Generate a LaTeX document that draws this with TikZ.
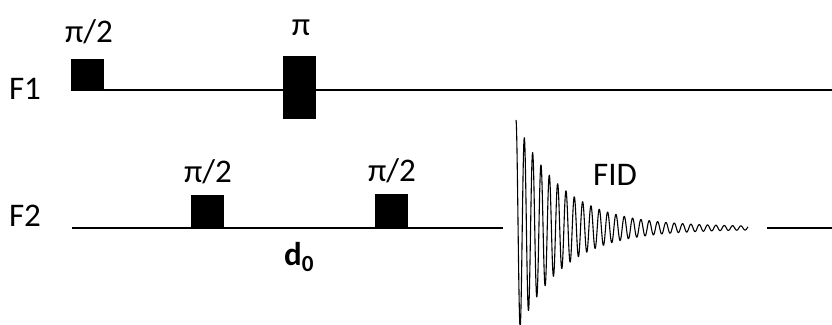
\documentclass[tikz,border=0pt]{standalone}
\usepackage{fontspec}
\setmainfont{Carlito}
\begin{document}
\begin{tikzpicture}[x=1pt,y=-1pt,
  lbl/.style={inner sep=0pt, font=\fontsize{33}{38}\selectfont},
  pulse/.style={fill=black, draw=none, inner sep=0pt},
  axis/.style={line width=1.4pt, black}]
\useasboundingbox (0,0) rectangle (832,324);
\clip (0,0) rectangle (832,324);
% channel labels
\node[lbl] (f1) at (25,89) {F1};
\node[lbl] (f2) at (25,216) {F2};
% baselines
\coordinate (f1s) at (72,90);
\coordinate (f1e) at (832,90);
\coordinate (f2s) at (72,228);
\coordinate (f2e) at (503,228);
\coordinate (f3s) at (767,228);
\coordinate (f3e) at (832,228);
\draw[axis] (f1s) -- (f1e);
\draw[axis] (f2s) -- (f2e);
\draw[axis] (f3s) -- (f3e);
% pulses
\node[pulse, minimum width=33pt, minimum height=32pt] (p1) at (87.5,75) {};
\node[pulse, minimum width=33pt, minimum height=63pt] (p2) at (299.5,87.5) {};
\node[pulse, minimum width=33pt, minimum height=33pt] (p3) at (207.5,211.5) {};
\node[pulse, minimum width=33pt, minimum height=34pt] (p4) at (391.5,211) {};
% pulse labels
\node[lbl] (l1) at (89,32) {π/2};
\node[lbl] (l2) at (301,28) {π};
\node[lbl] (l3) at (208,172) {π/2};
\node[lbl] (l4) at (392,171) {π/2};
\node[lbl] (fid) at (615,175) {FID};
\node[lbl] (d0) at (299,257) {\textbf{d\textsubscript{0}}};
% FID
\draw[line width=1.1pt, line join=round]
  plot[domain=0:232, samples=1400]
  ({516+\x},{228-(105*exp(-\x/45)+3*exp(-\x/300))*cos(mod(\x,8.33)*43.2173)});
\end{tikzpicture}
\end{document}
